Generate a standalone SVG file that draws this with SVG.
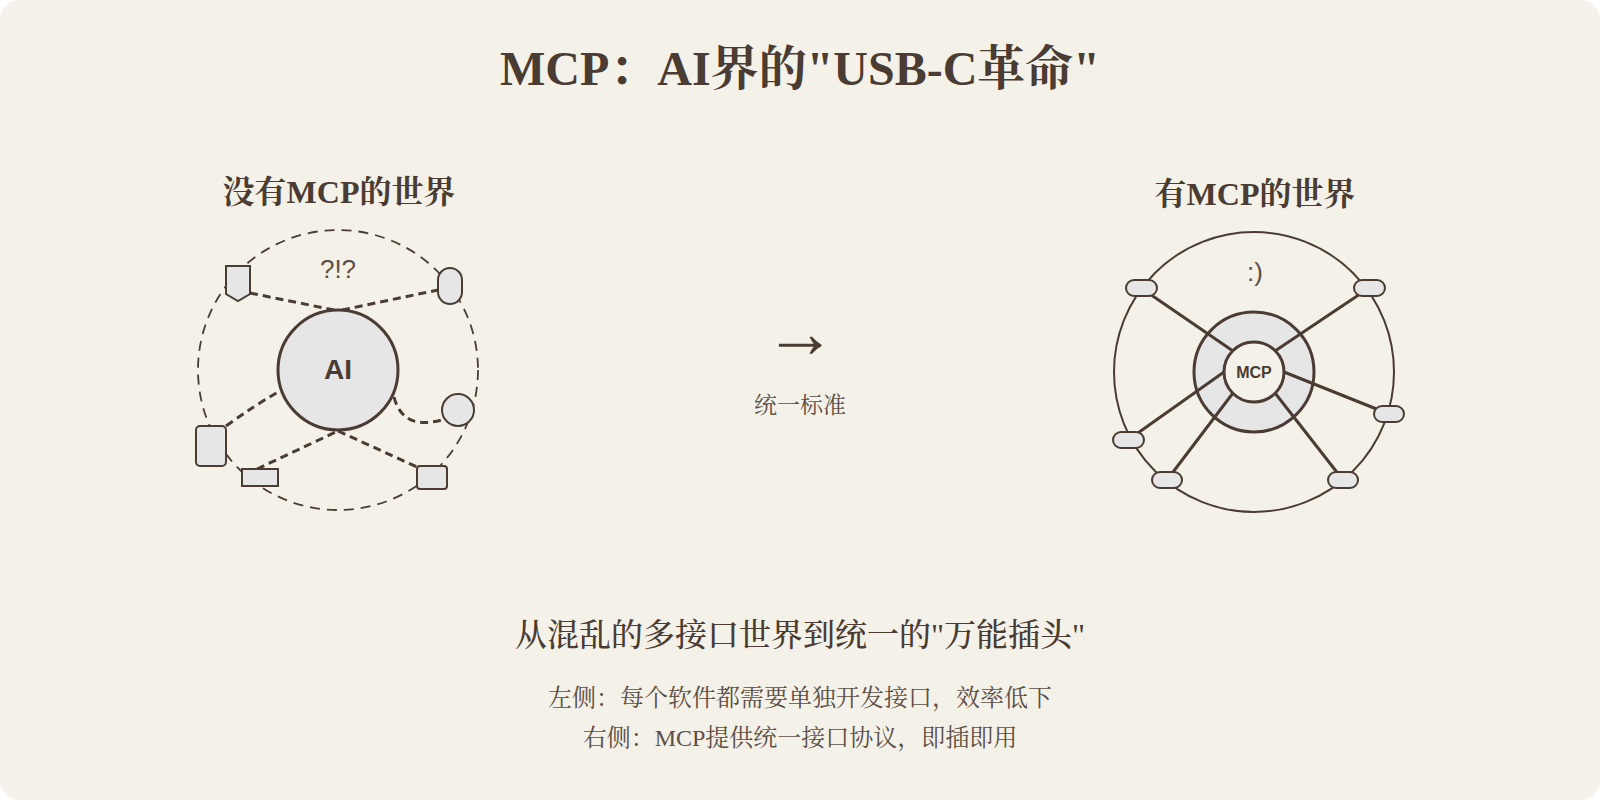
<svg xmlns="http://www.w3.org/2000/svg" width="1600" height="800" viewBox="0 0 1600 800">
<style>
.ttl{font-family:"Liberation Serif","Noto Serif CJK SC","Noto Sans CJK SC",serif;fill:#4a3c32;font-weight:bold;text-anchor:middle}
.sub{font-family:"Liberation Serif","Noto Serif CJK SC","Noto Sans CJK SC",serif;fill:#4a3c32;font-weight:500;text-anchor:middle}
.txt{font-family:"Liberation Serif","Noto Serif CJK SC","Noto Sans CJK SC",serif;fill:#5c4f45;text-anchor:middle}
.sans{font-family:"Liberation Sans",Arial,sans-serif;text-anchor:middle}
.node{fill:#e6e6e6;stroke:#4a3c32;stroke-width:2}
.dline{fill:none;stroke:#4a3c32;stroke-width:3;stroke-dasharray:8 5}
.spoke{fill:none;stroke:#4a3c32;stroke-width:3}
</style>
<rect width="1600" height="800" fill="#ffffff"/>
<rect width="1600" height="800" rx="20" fill="#f4f1e8"/>
<text class="ttl" x="800" y="85" font-size="48">MCP：AI界的"USB-C革命"</text>
<text class="ttl" x="339" y="203" font-size="32">没有MCP的世界</text>
<text class="ttl" x="1255" y="205" font-size="32">有MCP的世界</text>
<g id="left-world">
<circle cx="338" cy="370" r="140" fill="none" stroke="#4a3c32" stroke-width="1.8" stroke-dasharray="10 7"/>
<text class="sans" x="338" y="278" font-size="26" fill="#5c4f45">?!?</text>
</g>
<g id="connectors">
<path class="dline" d="M250,293 L334,310"/>
<path class="dline" d="M342,310 L438,290"/>
<path class="dline" d="M226,426 Q255,405 280,391"/>
<path class="dline" d="M257,469 L338,431"/>
<path class="dline" d="M338,431 L417,467"/>
<path class="dline" d="M394,397 Q403,432 445,419"/>
</g>
<g id="ai">
<circle cx="338" cy="370" r="60" fill="#e6e6e6" stroke="#4a3c32" stroke-width="3"/>
<text class="sans" x="338" y="379" font-size="28" font-weight="bold" fill="#4a3c32">AI</text>
</g>
<g id="app-shield"><polygon class="node" points="226,266 250,266 250,294 238,301 226,294"/></g>
<g id="app-pill"><rect class="node" x="438" y="268" width="24" height="36" rx="12"/></g>
<g id="app-circle"><circle class="node" cx="458" cy="410" r="16"/></g>
<g id="app-tall"><rect class="node" x="196" y="426" width="30" height="40" rx="4"/></g>
<g id="app-flat"><rect class="node" x="242" y="469" width="36" height="17"/></g>
<g id="app-square"><rect class="node" x="417" y="466" width="30" height="23" rx="3"/></g>
<g id="middle">
<text class="sans" x="800" y="357" font-size="72" fill="#4a3c32">→</text>
<text class="txt" x="800" y="413" font-size="23">统一标准</text>
</g>
<g id="right-world">
<circle cx="1254" cy="372" r="140" fill="none" stroke="#4a3c32" stroke-width="2"/>
<text class="sans" x="1255" y="281" font-size="26" fill="#5c4f45">:)</text>
</g>
<g id="mcp-ring"><circle cx="1254" cy="372" r="60" fill="#e6e6e6" stroke="#4a3c32" stroke-width="3"/></g>
<g id="spokes">
<line class="spoke" x1="1141" y1="288" x2="1233" y2="351"/>
<line class="spoke" x1="1369" y1="288" x2="1275" y2="351"/>
<line class="spoke" x1="1389" y1="414" x2="1284" y2="372"/>
<line class="spoke" x1="1128" y1="440" x2="1224" y2="372"/>
<line class="spoke" x1="1167" y1="480" x2="1233" y2="393"/>
<line class="spoke" x1="1343" y1="480" x2="1275" y2="393"/>
</g>
<g id="mcp">
<circle cx="1254" cy="372" r="30" fill="#f4f1e8" stroke="#4a3c32" stroke-width="3"/>
<text class="sans" x="1254" y="378" font-size="16" font-weight="bold" fill="#4a3c32">MCP</text>
</g>
<g id="plug-1"><rect class="node" x="1126" y="280" width="31" height="16" rx="8"/></g>
<g id="plug-2"><rect class="node" x="1354" y="280" width="31" height="16" rx="8"/></g>
<g id="plug-3"><rect class="node" x="1374" y="406" width="30" height="16" rx="8"/></g>
<g id="plug-4"><rect class="node" x="1113" y="432" width="31" height="16" rx="8"/></g>
<g id="plug-5"><rect class="node" x="1152" y="472" width="30" height="16" rx="8"/></g>
<g id="plug-6"><rect class="node" x="1328" y="472" width="30" height="16" rx="8"/></g>
<g id="caption">
<text class="sub" x="800" y="646" font-size="32">从混乱的多接口世界到统一的"万能插头"</text>
<text class="txt" x="800" y="706" font-size="24">左侧：每个软件都需要单独开发接口，效率低下</text>
<text class="txt" x="800" y="746" font-size="24">右侧：MCP提供统一接口协议，即插即用</text>
</g>
</svg>
